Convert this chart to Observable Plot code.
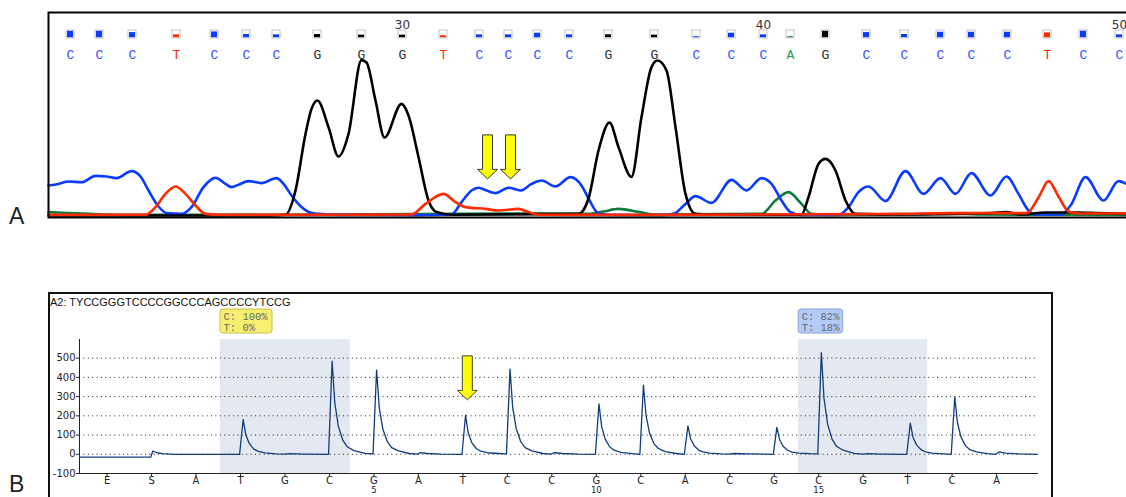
<!DOCTYPE html>
<html><head><meta charset="utf-8">
<script src="https://cdn.jsdelivr.net/npm/d3@7"></script>
<script src="https://cdn.jsdelivr.net/npm/@observablehq/plot@0.6"></script>
<style>
html,body{margin:0;padding:0;background:#fff;overflow:hidden;width:1126px;height:497px;}
#wrap{position:relative;width:1126px;height:497px;overflow:hidden;font-family:"Liberation Sans",Arial,sans-serif;}
.abs{position:absolute;}
.panel{font-family:"Liberation Sans",Arial,sans-serif;font-size:23px;line-height:23px;color:#222;}
</style></head><body><div id="wrap"></div>
<script>
// ---------- Panel A: Sanger chromatogram ----------
const baseCalls = ["C","C","C","T","C","C","C","G","G","G","T","C","C","C","C","G","G","C","C","C","A","G","C","C","C","C","C","T","C","C"];
const baseNumbers = [21,22,23,24,25,26,27,28,29,30,31,32,33,34,35,36,37,38,39,40,41,42,43,44,45,46,47,48,49,50];
const baseScans = [22,51,84,128,166,198,228,269,313,354,395,431,460,489,521,560,606,648,683,715,742,777,818,856,892,923,959,999,1035,1071];
const baseQuality = [1.0,1.0,0.8,0.45,0.9,0.5,0.45,0.5,0.4,0.4,0.3,0.45,0.45,0.7,0.45,0.45,0.4,0.15,0.7,0.45,0.15,1.0,0.8,0.5,0.85,0.85,0.85,0.75,1.0,0.45];
const numberedPositions = [30,40,50];

// traces: [scan, signal]
const traceC = [[0,150],[10,158],[20,170],[33,166],[47,198],[58,195],[68,187],[83,222],[92,195],[100,125],[110,45],[118,12],[133,8],[143,42],[155,142],[167,188],[177,158],[183,142],[190,154],[200,172],[213,162],[228,187],[235,158],[243,100],[253,42],[263,12],[270,8],[292,3],[372,2],[403,5],[413,67],[423,125],[430,139],[438,125],[447,112],[460,139],[472,125],[483,158],[493,175],[507,145],[522,192],[533,150],[540,85],[550,10],[562,3],[612,2],[625,8],[637,58],[647,97],[663,63],[683,178],[698,125],[713,187],[723,158],[733,75],[742,17],[753,3],[790,3],[800,42],[810,117],[820,145],[837,72],[857,222],[875,108],[892,187],[907,108],[923,212],[942,100],[958,195],[970,108],[980,25],[987,5],[1013,5],[1023,58],[1037,192],[1055,75],[1070,172],[1078,158]];
const traceT = [[0,3],[97,4],[107,42],[117,108],[127,145],[137,108],[147,50],[157,8],[172,3],[363,5],[377,58],[395,108],[407,67],[417,42],[437,33],[450,25],[470,33],[480,17],[490,4],[552,3],[812,7],[847,8],[910,12],[978,12],[990,90],[1000,172],[1010,95],[1020,20],[1030,10],[1078,10]];
const traceG = [[0,0],[222,0],[237,4],[247,125],[257,408],[263,533],[269,575],[280,442],[290,295],[300,408],[313,777],[318,765],[327,575],[336,390],[353,558],[360,500],[370,292],[380,75],[388,17],[403,4],[530,8],[540,85],[550,325],[561,465],[570,342],[583,193],[593,492],[603,742],[609,775],[618,725],[627,442],[637,108],[647,8],[660,4],[753,4],[760,92],[770,258],[777,283],[787,225],[797,75],[807,8],[852,5],[943,12],[957,17],[973,5],[997,15],[1027,15],[1050,12],[1078,8]];
const traceA = [[0,17],[13,14],[40,8],[67,4],[152,3],[489,10],[540,8],[555,20],[570,33],[590,18],[607,5],[713,8],[727,75],[740,117],[753,58],[763,8],[782,3],[872,7],[902,10],[932,5],[1078,3]];
const arrowScansA = [439,462];
const arrowTipA = 183;

// ---------- Panel B: Pyrogram ----------
const sampleTitle = "A2: TYCCGGGTCCCCGGCCCAGCCCCYTCCG";
const dispensations = ["E","S","A","T","G","C","G","A","T","C","C","G","C","A","C","G","C","G","T","C","A"];
const dispNumberIndex = [6,11,16];
const dispNumberLabel = ["5","10","15"];
const yTicks = [-100,0,100,200,300,400,500];
const gridValues = [0,100,200,300,400,500];
const regionStart = [2.55,15.55];
const regionEnd = [5.47,18.45];
const regionLabel = ["C: 100%\nT: 0%","C: 82%\nT: 18%"];
const pyroTrace = [
[-0.62,-15],[0.98,-15],[1.03,17],[1.12,8],[1.25,3],[1.5,0],
[2.98,0],[3.06,182],[3.12,100],[3.2,55],[3.3,27],[3.4,15],[3.55,7],[3.8,2],
[3.98,1],[4.1,3],[4.4,1],
[4.98,0],[5.06,485],[5.12,267],[5.2,146],[5.3,73],[5.4,39],[5.55,19],[5.8,5],
[5.98,2],[6.06,438],[6.12,241],[6.2,131],[6.3,66],[6.4,35],[6.55,18],[6.8,4],
[6.98,1],[7.05,9],[7.2,4],[7.5,1],
[7.98,0],[8.06,203],[8.12,112],[8.2,61],[8.3,30],[8.4,16],[8.55,8],[8.8,4],
[8.98,2],[9.06,443],[9.12,244],[9.2,133],[9.3,66],[9.4,35],[9.55,18],[9.8,4],
[9.98,1],[10.05,8],[10.25,4],[10.6,1],
[10.98,0],[11.06,262],[11.12,144],[11.2,79],[11.3,39],[11.4,21],[11.55,10],[11.8,3],
[11.98,0],[12.06,360],[12.12,198],[12.2,108],[12.3,54],[12.4,29],[12.55,14],[12.8,4],
[12.98,0],[13.06,148],[13.12,81],[13.2,44],[13.3,22],[13.4,12],[13.55,6],[13.8,2],
[13.98,1],[14.1,4],[14.4,2],
[14.98,0],[15.06,140],[15.12,77],[15.2,42],[15.3,21],[15.4,11],[15.55,6],[15.8,3],
[15.98,2],[16.06,528],[16.12,290],[16.2,158],[16.3,79],[16.4,42],[16.55,21],[16.8,5],
[16.98,1],[17.1,3],[17.4,1],
[17.98,0],[18.06,162],[18.12,89],[18.2,49],[18.3,24],[18.4,13],[18.55,6],[18.8,2],
[18.98,0],[19.06,298],[19.12,164],[19.2,89],[19.3,45],[19.4,24],[19.55,12],[19.8,3],
[19.98,0],[20.05,12],[20.2,6],[20.5,2],[20.92,0]
];
const arrowXB = 8.1;
const arrowTipB = 283;

// ---------- styles ----------
const channelColor = {C:"#0a3cff", T:"#ff2a00", G:"#000000", A:"#0b7a3b"};
const letterColor = {C:"#3a48ff", T:"#ff2a00", G:"#2a2a2a", A:"#1f9a5a"};
const boxStyle = [{fill:"#f6ef72", stroke:"#c9c24a", w:1.17},{fill:"#b3cbf7", stroke:"#8aa4dc", w:1.0}];

const downArrow = {draw(ctx){ctx.moveTo(0,0);ctx.lineTo(-10,-9.5);ctx.lineTo(-5,-9.5);ctx.lineTo(-5,-44);ctx.lineTo(5,-44);ctx.lineTo(5,-9.5);ctx.lineTo(10,-9.5);ctx.closePath();}};

const wrap = document.getElementById("wrap");

// Panel A table
const baseTable = baseCalls.map((b,i)=>({base:b, num:baseNumbers[i], scan:baseScans[i], q:baseQuality[i], color:channelColor[b], textColor:letterColor[b]}));
const numberTable = baseTable.filter(d=>numberedPositions.includes(d.num)).map(d=>({scan:d.scan, label:String(d.num)}));
const lineOpts = (c)=>({x:d=>d[0], y:d=>d[1], stroke:c, strokeWidth:2.6, curve:"monotone-x"});

const chartA = Plot.plot({
  width:1145, height:230,
  marginLeft:48, marginRight:7, marginTop:12, marginBottom:13,
  x:{domain:[0,1090], axis:null},
  y:{domain:[-10,1015], axis:null},
  color:{type:"identity"},
  style:{background:"transparent", maxWidth:"none", overflow:"visible"},
  marks:[
    Plot.line(traceA, lineOpts(channelColor.A)),
    Plot.line(traceC, lineOpts(channelColor.C)),
    Plot.line(traceG, lineOpts(channelColor.G)),
    Plot.line(traceT, lineOpts(channelColor.T)),
    Plot.frame({stroke:"#000", strokeWidth:2}),
    Plot.rect(baseTable, {x1:d=>d.scan-4, x2:d=>d.scan+4, y1:()=>885, y2:()=>925, fill:"#fff", stroke:"#c4c4c4", strokeWidth:1}),
    Plot.rect(baseTable, {x1:d=>d.scan-3, x2:d=>d.scan+3, y1:()=>889, y2:d=>889+32*d.q, fill:"color"}),
    Plot.text(baseTable, {x:"scan", text:"base", frameAnchor:"top", dy:37, fill:"textColor", fontFamily:"Liberation Mono, monospace", fontSize:13}),
    Plot.text(numberTable, {x:"scan", text:"label", frameAnchor:"top", dy:8, fill:"#333", fontFamily:"DejaVu Sans, sans-serif", fontSize:12}),
    Plot.dot(arrowScansA, {x:d=>d, y:()=>arrowTipA, symbol:downArrow, fill:"#ffff00", stroke:"#333", strokeWidth:1})
  ]
});
chartA.style.position = "absolute"; chartA.style.left = "0px"; chartA.style.top = "0px";
wrap.appendChild(chartA);

// Panel B
const frameB = document.createElement("div");
frameB.className = "abs";
Object.assign(frameB.style, {left:"48px", top:"292px", width:"1005px", height:"230px", border:"2px solid #111", boxSizing:"border-box"});
wrap.appendChild(frameB);

const title = document.createElement("div");
title.className = "abs";
Object.assign(title.style, {left:"50px", top:"295px", fontSize:"11px", lineHeight:"14px", color:"#111", fontFamily:"Liberation Sans, Arial, sans-serif"});
title.textContent = sampleTitle;
wrap.appendChild(title);

const regions = regionStart.map((s,i)=>({start:s, end:regionEnd[i], label:regionLabel[i], fill:boxStyle[i].fill, border:boxStyle[i].stroke, boxEnd:s+boxStyle[i].w}));
const dispNumbers = dispNumberIndex.map((d,i)=>({i:d, n:dispNumberLabel[i]}));

const chartB = Plot.plot({
  width:1060, height:220,
  marginLeft:79, marginRight:23, marginTop:49, marginBottom:37,
  color:{type:"identity"},
  style:{background:"transparent", maxWidth:"none", overflow:"visible", fontFamily:"DejaVu Sans, sans-serif", fontSize:"10px", color:"#222"},
  x:{domain:[-0.62,20.92], ticks:dispensations.map((d,i)=>i), tickFormat:i=>dispensations[i], tickSize:3.5, tickPadding:0, line:true, label:null},
  y:{domain:[-100,597], ticks:yTicks, tickFormat:d=>String(d), tickSize:3, tickPadding:1, line:true, label:null},
  marks:[
    Plot.rect(regions, {x1:"start", x2:"end", fill:"#e4e8f0"}),
    Plot.ruleY(gridValues, {stroke:"#222", strokeDasharray:"1,3.4", strokeWidth:1}),
    Plot.line(pyroTrace, {x:d=>d[0], y:d=>d[1], stroke:"#123d7c", strokeWidth:1.3}),
    Plot.rect(regions, {x1:"start", x2:"boxEnd", y1:()=>628, y2:()=>753, fill:"fill", stroke:"border", rx:3}),
    Plot.text(regions, {x:"start", y:()=>753, dx:3, dy:2, text:"label", lineAnchor:"top", textAnchor:"start", fontFamily:"Liberation Mono, monospace", fontSize:10.5, fill:"#666", lineHeight:1.1}),
    Plot.text(dispNumbers, {x:"i", text:"n", frameAnchor:"bottom", dy:19, fill:"#222", fontSize:8.5}),
    Plot.dot([arrowXB], {x:d=>d, y:()=>arrowTipB, symbol:downArrow, fill:"#ffff00", stroke:"#444", strokeWidth:1})
  ]
});
chartB.style.position = "absolute"; chartB.style.left = "0px"; chartB.style.top = "290px";
wrap.appendChild(chartB);

const labA = document.createElement("div");
labA.className = "abs panel"; labA.style.left = "9px"; labA.style.top = "205px"; labA.textContent = "A";
wrap.appendChild(labA);
const labB = document.createElement("div");
labB.className = "abs panel"; labB.style.left = "9px"; labB.style.top = "473px"; labB.textContent = "B";
wrap.appendChild(labB);
</script></body></html>
